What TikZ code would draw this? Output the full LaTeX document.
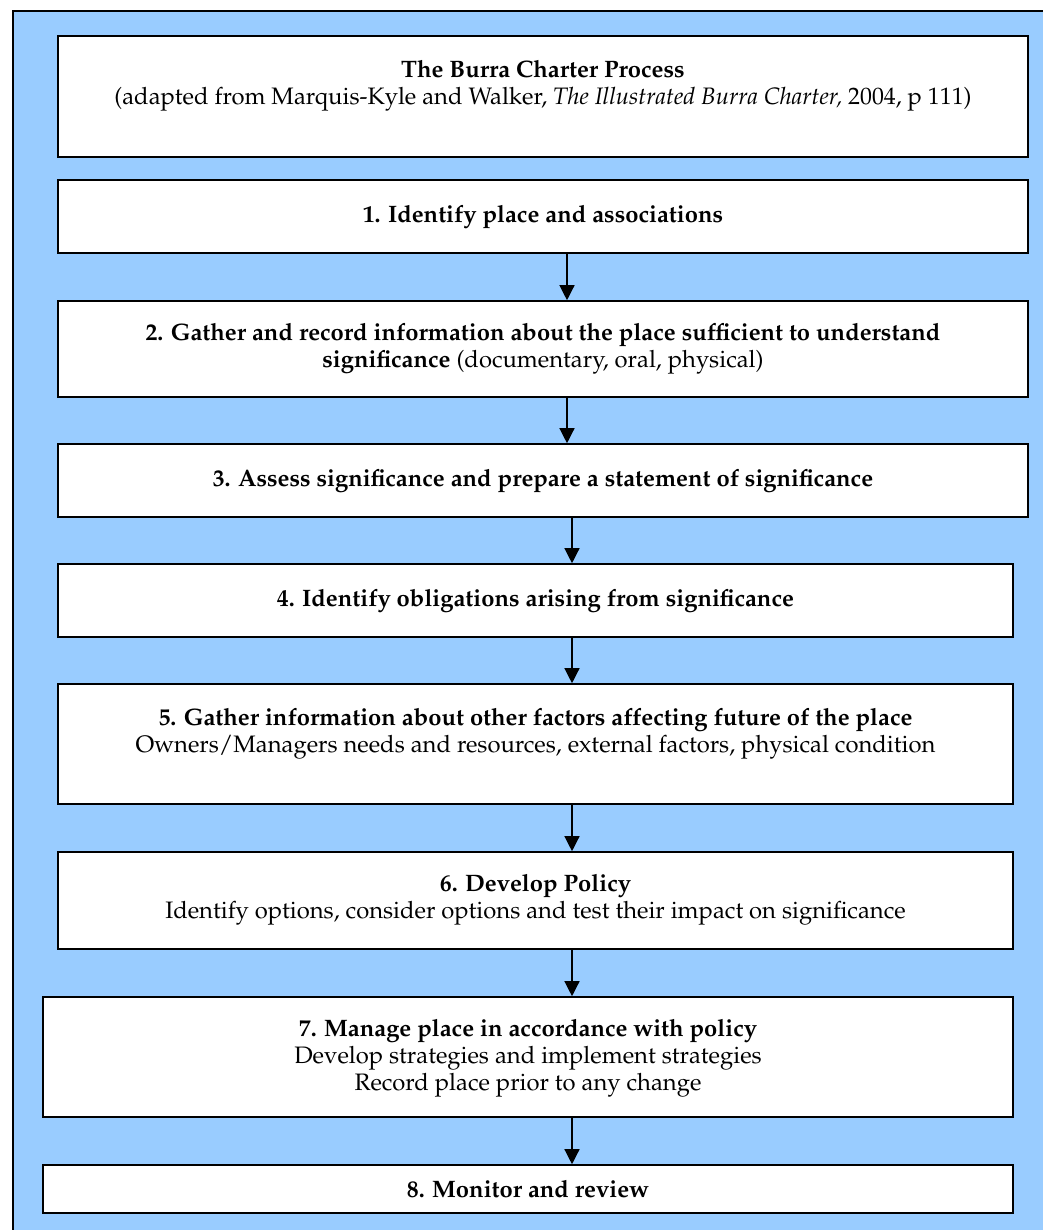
\documentclass[tikz,border=0pt]{standalone}
\usepackage[T1]{fontenc}
\renewcommand{\rmdefault}{ppl}
\usetikzlibrary{arrows.meta,fit}
\definecolor{bgblue}{RGB}{153,204,255}
\begin{document}
\begin{tikzpicture}[x=0.5pt,y=-0.5pt,
  box/.style={draw=black,line width=0.8pt,fill=white,rectangle,inner sep=0pt},
  txt/.style={align=center,font=\fontsize{11.9}{13.6}\selectfont,inner sep=0pt},
  arr/.style={line width=0.65pt,-{Triangle[width=7.5pt,length=7.5pt]}}]
\useasboundingbox (0,0) rectangle (1043,1230);
\fill[bgblue] (13,11) rectangle (1043,1230);
\draw[line width=0.7pt] (13,1230) -- (13,11) -- (1043,11);
% boxes
\node[box,fit={(58,36) (1028,157)}] (b0) {};
\node[box,fit={(58,180) (1028,253)}] (b1) {};
\node[box,fit={(58,301) (1028,397)}] (b2) {};
\node[box,fit={(58,444) (1028,517)}] (b3) {};
\node[box,fit={(58,564) (1013,637)}] (b4) {};
\node[box,fit={(58,684) (1013,804)}] (b5) {};
\node[box,fit={(58,852) (1013,949)}] (b6) {};
\node[box,fit={(43,997) (1013,1117)}] (b7) {};
\node[box,fit={(43,1165) (1013,1213)}] (b8) {};
% texts
\node[txt] (t0) at (543,86) {\textbf{The Burra Charter Process}\\(adapted from Marquis-Kyle and Walker, \textit{The Illustrated Burra Charter,} 2004, p 111)};
\node[txt] (t1) at (543,217) {\textbf{1. Identify place and associations}};
\node[txt] (t2) at (543,349) {\textbf{2. Gather and record information about the place sufficient to understand}\\\textbf{significance} (documentary, oral, physical)};
\node[txt] (t3) at (543,481) {\textbf{3. Assess significance and prepare a statement of significance}};
\node[txt] (t4) at (535.5,601) {\textbf{4. Identify obligations arising from significance}};
\node[txt] (t5) at (535.5,734) {\textbf{5. Gather information about other factors affecting future of the place}\\Owners/Managers needs and resources, external factors, physical condition};
\node[txt] (t6) at (535.5,900) {\textbf{6. Develop Policy}\\Identify options, consider options and test their impact on significance};
\node[txt] (t7) at (528,1058) {\textbf{7. Manage place in accordance with policy}\\Develop strategies and implement strategies\\Record place prior to any change};
\node[txt] (t8) at (528,1189) {\textbf{8. Monitor and review}};
% arrows
\coordinate (ax1) at (567,0);
\coordinate (ax2) at (572,0);
\draw[arr] (b1.south -| ax1) -- (b2.north -| ax1);
\draw[arr] (b2.south -| ax1) -- (b3.north -| ax1);
\draw[arr] (b3.south -| ax2) -- (b4.north -| ax2);
\draw[arr] (b4.south -| ax2) -- (b5.north -| ax2);
\draw[arr] (b5.south -| ax2) -- (b6.north -| ax2);
\draw[arr] (b6.south -| ax2) -- (b7.north -| ax2);
\draw[arr] (b7.south -| ax2) -- (b8.north -| ax2);
\end{tikzpicture}
\end{document}
